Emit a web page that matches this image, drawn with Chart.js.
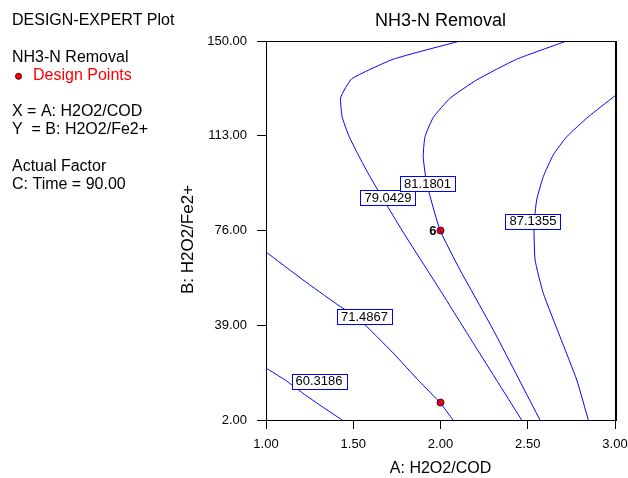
<!DOCTYPE html>
<html><head><meta charset="utf-8">
<script src="https://cdn.jsdelivr.net/npm/chart.js@4/dist/chart.umd.min.js"></script>
<style>html,body{margin:0;padding:0;background:#fff}</style>
</head><body>
<canvas id="c" width="628" height="478"></canvas>
<script>
// ---- data ----
const xTicks = [1.00, 1.50, 2.00, 2.50, 3.00];
const yTicks = [2.00, 39.00, 76.00, 113.00, 150.00];
const contourLevels = ["60.3186", "71.4867", "79.0429", "81.1801", "87.1355"];
const contour60 = [[1.000,22.3],[1.110,17.6],[1.212,12.4],[1.320,7.3],[1.436,2.0]];
const contour71 = [[1.000,67.6],[1.212,56.7],[1.400,47.5],[1.539,41.0],[1.728,28.2],[1.880,17.0],[1.997,8.8],[2.072,2.0]];
const contour79 = [[2.112,150.0],[1.730,142.9],[1.491,135.2],[1.428,127.9],[1.437,120.2],[1.477,112.6],[1.529,105.5],[1.596,97.0],[1.778,76.2],[1.997,52.8],[2.188,32.0],[2.465,2.0]];
const contour81 = [[2.723,150.0],[2.437,142.9],[2.207,134.8],[2.054,127.6],[1.959,120.2],[1.911,112.6],[1.901,104.8],[1.921,94.4],[1.997,76.2],[2.112,60.6],[2.303,37.1],[2.570,2.0]];
const contour87 = [[3.000,128.6],[2.847,120.4],[2.723,112.6],[2.646,105.5],[2.589,97.0],[2.551,87.9],[2.536,78.1],[2.542,64.5],[2.589,51.5],[2.685,34.5],[2.781,17.6],[2.847,2.0]];
const labelAnchorX = [1.304, 1.564, 1.699, 1.926, 2.530];
const labelAnchorY = [17.2, 42.3, 88.7, 94.3, 79.6];
const designX = [2.00, 2.00];
const designY = [76.0, 8.8];
const designCount = ["6", ""];
const infoLines = ["DESIGN-EXPERT Plot", "", "NH3-N Removal", "Design Points", "", "X = A: H2O2/COD", "Y  = B: H2O2/Fe2+", "", "Actual Factor", "C: Time = 90.00"];

const FONT = "'Liberation Sans', Arial, Helvetica, sans-serif";
Chart.defaults.font.family = FONT;
Chart.defaults.color = '#000';

const contours = [contour60, contour71, contour79, contour81, contour87];
const datasets = contours.map((c, i) => ({
  label: contourLevels[i],
  data: c.map(p => ({x: p[0], y: p[1]})),
  showLine: true, borderColor: '#0000ff', borderWidth: 1, pointRadius: 0, tension: 0.15, fill: false
}));
datasets.push({
  label: 'Design Points',
  data: designX.map((x, i) => ({x: x, y: designY[i]})),
  showLine: false, pointRadius: 3.5, backgroundColor: '#ff0000', borderColor: '#600000', borderWidth: 1
});

const decor = {
  id: 'decor',
  afterDatasetsDraw(chart) {
    const ctx = chart.ctx, xs = chart.scales.x, ys = chart.scales.y, a = chart.chartArea;
    ctx.save();
    // contour labels
    ctx.font = "13px " + FONT;
    ctx.textAlign = 'center'; ctx.textBaseline = 'middle';
    contourLevels.forEach((t, i) => {
      const px = xs.getPixelForValue(labelAnchorX[i]), py = ys.getPixelForValue(labelAnchorY[i]);
      const w = ctx.measureText(t).width + 8, h = 15;
      ctx.fillStyle = '#fff';
      ctx.fillRect(Math.round(px - w/2)+0.5, Math.round(py - h/2)+0.5, Math.round(w), h);
      ctx.strokeStyle = '#0000ff'; ctx.lineWidth = 1;
      ctx.strokeRect(Math.round(px - w/2)+0.5, Math.round(py - h/2)+0.5, Math.round(w), h);
      ctx.fillStyle = '#000';
      ctx.fillText(t, px, py + 0.5);
    });
    // design point counts
    ctx.font = "bold 13px " + FONT;
    ctx.textAlign = 'right';
    designCount.forEach((t, i) => {
      if (!t) return;
      ctx.fillText(t, xs.getPixelForValue(designX[i]) - 4, ys.getPixelForValue(designY[i]) + 0.5);
    });
    // frame
    ctx.strokeStyle = '#000'; ctx.lineWidth = 1;
    ctx.strokeRect(Math.round(a.left) + 0.5, Math.round(a.top) + 0.5, Math.round(a.right - a.left), Math.round(a.bottom - a.top));
    ctx.beginPath(); ctx.moveTo(Math.round(a.right) + 1.5, a.top); ctx.lineTo(Math.round(a.right) + 1.5, a.bottom + 1); ctx.stroke();
    // title
    ctx.textAlign = 'center'; ctx.textBaseline = 'middle';
    ctx.font = "18px " + FONT;
    ctx.fillText("NH3-N Removal", (a.left + a.right) / 2, 21);
    // axis titles
    ctx.font = "16px " + FONT;
    ctx.fillText("A: H2O2/COD", (a.left + a.right) / 2, 469);
    ctx.save();
    ctx.translate(188, 239.5); ctx.rotate(-Math.PI / 2);
    ctx.font = "17px " + FONT;
    ctx.fillText("B: H2O2/Fe2+", 0, 0);
    ctx.restore();
    // info text
    ctx.textAlign = 'left'; ctx.font = "16px " + FONT;
    infoLines.forEach((t, i) => {
      if (!t) return;
      const y = 20.7 + i * 18.2;
      if (t === 'Design Points') {
        ctx.fillStyle = '#ff0000';
        ctx.fillText(t, 33, y);
        ctx.beginPath(); ctx.arc(18.5, y + 1, 3, 0, Math.PI * 2);
        ctx.fillStyle = '#ff0000'; ctx.fill();
        ctx.strokeStyle = '#400000'; ctx.lineWidth = 1; ctx.stroke();
        ctx.fillStyle = '#000';
      } else {
        ctx.fillText(t, 12, y);
      }
    });
    ctx.restore();
  }
};

new Chart(document.getElementById('c'), {
  type: 'scatter',
  data: { datasets },
  options: {
    responsive: false, animation: false, devicePixelRatio: 1,
    layout: { padding: { left: 0, top: 41, right: 13, bottom: 0 } },
    plugins: { legend: { display: false }, tooltip: { enabled: false }, title: { display: false } },
    scales: {
      x: {
        type: 'linear', min: 1, max: 3,
        afterBuildTicks: s => { s.ticks = xTicks.map(v => ({value: v})); },
        afterFit: s => { s.height = 58; s.paddingLeft = 0; s.paddingRight = 0; },
        ticks: { font: { size: 13 }, color: '#000', padding: 8, maxRotation: 0, autoSkip: false, callback: v => Number(v).toFixed(2) },
        grid: { drawOnChartArea: false, drawTicks: true, tickLength: 9, color: '#000' },
        border: { display: true, color: '#000' }
      },
      y: {
        type: 'linear', min: 2, max: 150,
        afterBuildTicks: s => { s.ticks = yTicks.map(v => ({value: v})); },
        afterFit: s => { s.width = 266; s.paddingTop = 0; s.paddingBottom = 0; },
        ticks: { font: { size: 13 }, color: '#000', padding: 10, autoSkip: false, callback: v => Number(v).toFixed(2) },
        grid: { drawOnChartArea: false, drawTicks: true, tickLength: 9, color: '#000' },
        border: { display: true, color: '#000' }
      }
    }
  },
  plugins: [decor]
});
</script>
</body></html>
